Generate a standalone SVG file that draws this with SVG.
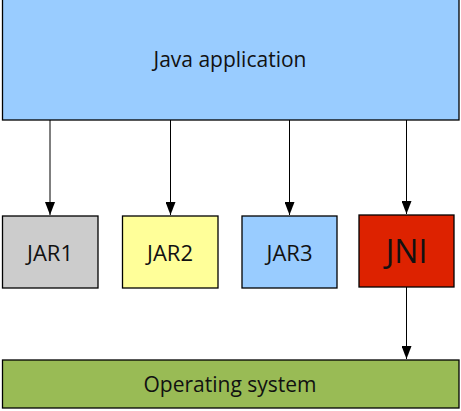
<svg xmlns="http://www.w3.org/2000/svg" width="461" height="411" viewBox="0 0 461 411">
<style>
.box{stroke:#000;stroke-width:1.3}
.t{font-family:"Open Sans","Liberation Sans",sans-serif;fill:#111;text-anchor:middle}
.c{stroke:#000;stroke-width:1;fill:none;marker-end:url(#ah)}
</style>
<defs>
<marker id="ah" markerWidth="13" markerHeight="10" refX="13" refY="5" orient="auto" markerUnits="userSpaceOnUse" viewBox="0 0 13 10">
<path d="M0,0 L13,5 L0,10 Z" fill="#000"/>
</marker>
</defs>
<rect width="461" height="411" fill="#fff"/>
<g id="java-app">
<rect class="box" x="2.5" y="-1" width="456.5" height="121" fill="#99ccff"/>
<text class="t" x="230" y="67" font-size="21">Java application</text>
</g>
<g id="jar1">
<rect class="box" x="2.5" y="216" width="95.5" height="72" fill="#cccccc"/>
<text class="t" x="50" y="261" font-size="22">JAR1</text>
</g>
<g id="jar2">
<rect class="box" x="122.5" y="216" width="95.5" height="72" fill="#ffff99"/>
<text class="t" x="170" y="261" font-size="22">JAR2</text>
</g>
<g id="jar3">
<rect class="box" x="242" y="216" width="95" height="72" fill="#99ccff"/>
<text class="t" x="289.5" y="261" font-size="22">JAR3</text>
</g>
<g id="jni">
<rect class="box" x="359" y="215" width="95" height="72" fill="#dd2200"/>
<text class="t" x="406.5" y="263" font-size="32" fill="#200">JNI</text>
</g>
<g id="os">
<rect class="box" x="2.5" y="360" width="456.5" height="48" fill="#99bb55"/>
<text class="t" x="230" y="392" font-size="21">Operating system</text>
</g>
<g id="connectors">
<path class="c" d="M50,120 V215"/>
<path class="c" d="M170.5,120 V215"/>
<path class="c" d="M289.5,120 V215"/>
<path class="c" d="M406.5,120 V214"/>
<path class="c" d="M406.5,287 V359"/>
</g>
</svg>
